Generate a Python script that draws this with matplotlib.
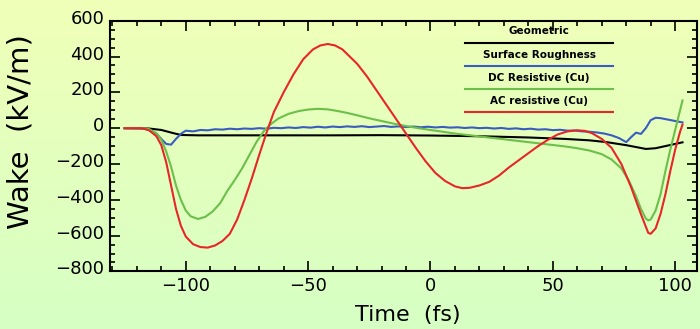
import numpy as np
import matplotlib
matplotlib.use("Agg")
import matplotlib.pyplot as plt
from matplotlib.ticker import MultipleLocator
import matplotlib.transforms as mtransforms

plt.rcParams['font.family'] = 'DejaVu Sans'

# Geometric wake
t_geo = [-125, -115, -110, -105, -102, -95, -80, -60, -40, -20, 0, 20, 40, 55,
         65, 72, 80, 85, 88, 92, 96, 100, 103]
w_geo = [0, -2, -10, -28, -38, -40, -40, -40, -40, -39, -41, -45, -52, -60,
         -68, -78, -95, -108, -116, -112, -100, -88, -79]

# Surface roughness wake
t_sr = [-125, -118, -115, -112, -110, -108, -106, -104, -102, -100, -97, -94,
        -91, -88, -85, -82, -79, -76, -73, -70, -67, -64, -61, -58, -55, -52,
        -49, -46, -43, -40, -37, -34, -31, -28, -25, -22, -19, -16, -13, -10,
        -7, -4, -1, 2, 5, 8, 11, 14, 17, 20, 23, 26, 29, 32, 35, 38, 41, 44,
        47, 50, 53, 56, 59, 62, 65, 68, 71, 74, 77, 80, 82, 84, 86, 88, 90,
        92, 94, 97, 100, 103]
w_sr = [0, 0, -8, -30, -60, -88, -92, -60, -32, -14, -18, -10,
        -12, -6, -8, -3, -6, -2, -4, 0, -3, 2, 0, 4, 1, 6,
        3, 8, 4, 9, 6, 10, 7, 11, 6, 9, 12, 7, 10, 6,
        9, 5, 8, 4, 7, 3, 5, 1, 4, 0, 2, -2, 1, -4, -1, -6, -3, -8,
        -6, -11, -9, -14, -13, -18, -20, -24, -30, -40, -55, -78, -50, -25, -32, 0, 45,
        58, 56, 48, 40, 32]

# DC resistive wake
t_dc = [-125, -118, -115, -112, -110, -108, -106, -104, -102, -100, -98, -95,
        -92, -89, -86, -83, -80, -77, -74, -71, -68, -65, -62, -58, -54, -50,
        -46, -42, -38, -34, -30, -25, -20, -15, -10, -5, 0, 5, 10, 15, 20, 25,
        30, 35, 40, 45, 50, 55, 60, 65, 70, 74, 78, 81, 84, 86, 88, 89, 90,
        92, 94, 96, 98, 100, 102, 103]
w_dc = [0, 0, -5, -28, -65, -130, -215, -320, -400, -460, -492, -507,
        -495, -465, -420, -350, -290, -225, -150, -75, -15, 25, 55, 80, 95, 104,
        108, 105, 96, 85, 72, 55, 40, 25, 12, 0, -10, -20, -30, -38, -46, -54,
        -62, -70, -78, -86, -94, -102, -112, -125, -145, -175, -225, -290, -380, -450, -505, -515, -510,
        -460, -370, -240, -120, -10, 100, 155]

# AC resistive wake
t_ac = [-125, -118, -115, -112, -110, -108, -106, -104, -102, -100, -97, -94,
        -91, -88, -85, -82, -79, -76, -73, -70, -67, -64, -60, -56, -52, -48,
        -45, -42, -39, -36, -33, -30, -26, -22, -18, -14, -10, -6, -2, 2, 6,
        10, 13, 16, 20, 24, 28, 32, 36, 40, 44, 48, 52, 56, 60, 63, 66, 70,
        74, 78, 82, 86, 89, 90, 92, 94, 96, 98, 100, 102, 103]
w_ac = [0, 0, -12, -45, -95, -190, -320, -450, -545, -605, -648, -664,
        -667, -655, -630, -590, -510, -400, -280, -150, -25, 90, 200, 300, 385, 440,
        462, 470, 462, 440, 400, 360, 290, 210, 130, 50, -30, -110, -185, -250, -295,
        -325, -335, -333, -320, -300, -265, -220, -180, -140, -100, -65, -35, -18, -12, -15, -28, -60,
        -110, -200, -330, -480, -585, -590, -560, -480, -370, -240, -120, -20, 20]

labels = ["Geometric", "Surface Roughness", "DC Resistive (Cu)", "AC resistive (Cu)"]
colors = ["black", "#3a5cc0", "#6cbf4a", "#e8262a"]

fig = plt.figure(figsize=(7.0, 3.29), dpi=100)

# background gradient (yellow top -> green bottom)
bg = fig.add_axes([0, 0, 1, 1], zorder=-10)
top = np.array([240, 255, 184]) / 255.0
bot = np.array([214, 255, 196]) / 255.0
g = np.linspace(0, 1, 256)[:, None]
grad = top[None, :] * (1 - g) + bot[None, :] * g
bg.imshow(grad[:, None, :], aspect='auto', extent=[0, 1, 0, 1])
bg.axis('off')

ax = fig.add_axes([0.157, 0.175, 0.839, 0.762])
ax.patch.set_alpha(0)

series = [(t_geo, w_geo), (t_sr, w_sr), (t_dc, w_dc), (t_ac, w_ac)]
for (t, w), c in zip(series, colors):
    ax.plot(t, w, color=c, lw=1.5)

ax.set_xlim(-131, 109)
ax.set_ylim(-800, 600)
ax.xaxis.set_major_locator(MultipleLocator(50))
ax.xaxis.set_minor_locator(MultipleLocator(10))
ax.yaxis.set_major_locator(MultipleLocator(200))
ax.yaxis.set_minor_locator(MultipleLocator(50))
ax.tick_params(which='both', direction='in', top=True, right=True, labelsize=13,
               width=1.2)
ax.tick_params(which='major', length=7, pad=4)
ax.tick_params(which='minor', length=3.5)
for s in ax.spines.values():
    s.set_linewidth(1.5)

# y tick labels sit a little above their ticks in the original
shift = mtransforms.ScaledTranslation(0, 0.04, fig.dpi_scale_trans)
for lab in ax.get_yticklabels():
    lab.set_transform(lab.get_transform() + shift)

ax.set_xlabel("Time  (fs)", fontsize=16, va='top')
ax.xaxis.set_label_coords(0.508, -0.132)
ax.set_ylabel("Wake  (kV/m)", fontsize=21, va='center')
ax.yaxis.set_label_coords(-0.152, 0.556)

# legend: label text with a line below it
x0, x1 = 0.605, 0.857
text_y = [0.959, 0.863, 0.771, 0.680]
line_y = [0.911, 0.819, 0.728, 0.636]
for lab, c, ty, ly in zip(labels, colors, text_y, line_y):
    ax.text((x0 + x1) / 2, ty, lab, transform=ax.transAxes, ha='center',
            va='center', fontsize=7.5, fontweight='bold')
    ax.plot([x0, x1], [ly, ly], transform=ax.transAxes, color=c, lw=1.5)

fig.savefig("out.png", dpi=100)
